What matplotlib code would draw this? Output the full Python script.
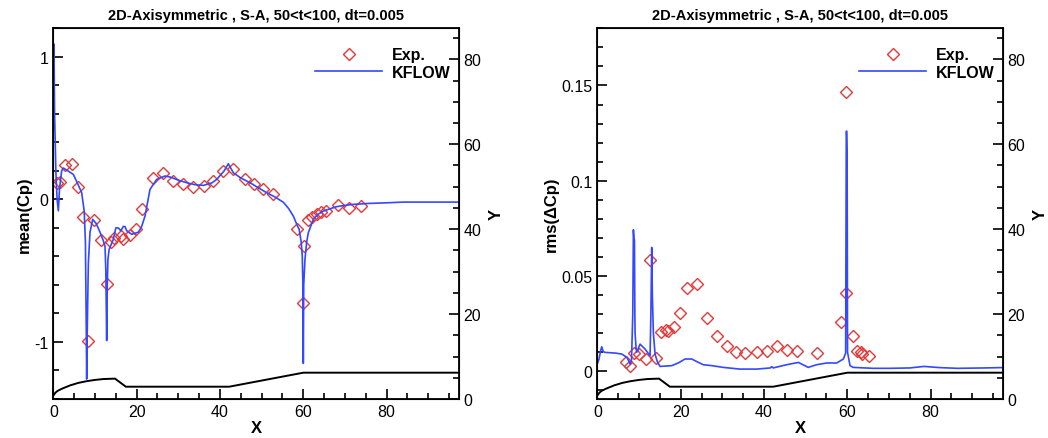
import numpy as np
import matplotlib.pyplot as plt
from matplotlib.ticker import MultipleLocator, FormatStrFormatter

plt.rcParams['font.family'] = ['Liberation Sans', 'DejaVu Sans']

title = '2D-Axisymmetric , S-A, 50<t<100, dt=0.005'

# mean(Cp) experiment
cp_exp_x = [0.8, 1.6, 2.8, 4.5, 5.9, 7.0, 8.2, 9.8, 11.5, 12.9, 13.8, 14.6, 16.2, 16.8, 18.4,
            19.8, 21.2, 24.0, 26.4, 28.8, 31.2, 33.6, 36.2, 38.4, 40.7, 43.2, 46.0, 48.2,
            50.4, 52.8, 58.6, 60.2, 60.0, 61.2, 62.2, 63.2, 64.2, 65.4, 68.4, 71.0, 73.8]
cp_exp_y = [0.117, 0.12, 0.24, 0.247, 0.088, -0.125, -0.99, -0.145, -0.286, -0.59, -0.30,
            -0.27, -0.26, -0.28, -0.25, -0.21, -0.065, 0.152, 0.184, 0.129, 0.105, 0.089,
            0.094, 0.129, 0.199, 0.215, 0.140, 0.110, 0.075, 0.040, -0.21, -0.33, -0.73,
            -0.145, -0.124, -0.10, -0.089, -0.082, -0.042, -0.058, -0.047]

# mean(Cp) KFLOW
cp_x = [0.0, 0.15, 0.3, 0.6, 0.9, 1.2, 1.5, 2.0, 2.4, 3.5, 4.8, 6.0, 6.8, 7.4, 7.7, 7.9, 8.0,
        8.15, 8.4, 8.8, 9.45, 10.3, 11.2, 12.0, 12.4, 12.6, 12.8, 12.95, 13.1, 13.4, 14.4,
        15.0, 15.6, 16.2, 16.8, 17.2, 17.6, 18.8, 20.4, 21.2, 22.0, 23.2, 24.8, 26.8, 28.0,
        30.0, 32.0, 34.0, 36.0, 38.0, 39.2, 41.0, 42.0, 43.2, 45.0, 47.2, 49.0, 51.2, 53.2,
        55.2, 56.5, 57.6, 58.5, 59.0, 59.5, 59.75, 59.9, 60.0, 60.1, 60.4, 60.8, 61.2, 62.4,
        63.5, 64.8, 66.5, 68.0, 70.0, 72.0, 76.0, 80.0, 84.0, 90.0, 97.3]
cp_y = [0.5, 1.09, 0.6, 0.2, 0.0, -0.08, 0.08, 0.2, 0.22, 0.2, 0.175, 0.10, 0.047, -0.08,
        -0.3, -0.9, -1.26, -0.9, -0.45, -0.23, -0.14, -0.17, -0.23, -0.29, -0.33, -0.5, -0.99,
        -0.6, -0.42, -0.35, -0.28, -0.2, -0.2, -0.22, -0.19, -0.19, -0.22, -0.245, -0.23,
        -0.19, -0.117, 0.07, 0.14, 0.164, 0.157, 0.135, 0.117, 0.103, 0.098, 0.115, 0.14, 0.2,
        0.25, 0.187, 0.15, 0.117, 0.085, 0.047, 0.017, -0.02, -0.065, -0.117, -0.18, -0.21,
        -0.3, -0.4, -0.6, -1.15, -0.6, -0.42, -0.3, -0.234, -0.14, -0.105, -0.082, -0.065,
        -0.051, -0.042, -0.035, -0.028, -0.024, -0.019, -0.019, -0.019]

# rms(dCp) experiment
rms_exp_x = [6.8, 7.85, 8.8, 10.0, 11.7, 12.6, 14.0, 15.2, 16.4, 16.9, 18.4, 19.8, 21.4,
             24.0, 26.3, 28.7, 31.0, 33.2, 35.4, 38.3, 40.8, 43.0, 45.6, 48.0, 52.8, 58.6,
             59.7, 59.7, 61.4, 62.4, 63.2, 63.6, 65.2]
rms_exp_y = [0.0047, 0.003, 0.0096, 0.009, 0.0065, 0.0584, 0.0068, 0.0208, 0.0218, 0.021,
             0.0231, 0.0304, 0.044, 0.0458, 0.028, 0.0187, 0.0131, 0.0103, 0.0094, 0.010,
             0.0108, 0.0134, 0.0112, 0.0108, 0.0096, 0.0257, 0.041, 0.1464, 0.0187, 0.0108,
             0.0103, 0.009, 0.0082]

# rms(dCp) KFLOW
rms_x = [0.0, 0.4, 0.8, 1.05, 1.4, 1.7, 3.0, 4.25, 5.85, 7.0, 7.3, 7.85, 8.2, 8.5, 8.65, 8.8,
         8.9, 9.0, 9.05, 9.3, 9.45, 10.25, 11.45, 12.65, 12.85, 13.05, 13.2, 13.45, 13.85,
         14.4, 15.05, 17.85, 19.5, 21.05, 22.65, 24.0, 25.4, 27.5, 30.2, 34.2, 38.25, 41.5,
         41.85, 42.2, 45.45, 48.25, 50.6, 52.65, 55.05, 57.45, 59.05, 59.6, 59.75, 59.85,
         59.95, 60.05, 60.65, 61.4, 66.2, 70.2, 75.0, 78.4, 82.0, 86.4, 92.8, 97.3]
rms_y = [0.004, 0.0065, 0.011, 0.0129, 0.0105, 0.010, 0.0098, 0.0096, 0.0091, 0.0075, 0.0065,
         0.0038, 0.006, 0.03, 0.0743, 0.069, 0.069, 0.03, 0.020, 0.012, 0.010, 0.0143, 0.0117,
         0.0082, 0.03, 0.065, 0.04, 0.020, 0.0091, 0.005, 0.0026, 0.003, 0.0045, 0.0065,
         0.0065, 0.005, 0.0035, 0.003, 0.0021, 0.0012, 0.0012, 0.0018, 0.0025, 0.0018,
         0.0035, 0.0047, 0.0021, 0.0035, 0.0044, 0.0044, 0.0065, 0.0096, 0.126, 0.126, 0.115,
         0.01, 0.003, 0.0021, 0.0016, 0.0016, 0.0018, 0.0026, 0.002, 0.0016, 0.0018, 0.002]

# geometry (right axis Y)
geo_x = [0, 0.5, 1, 2, 4, 6, 8, 10, 12, 14.8, 17.4, 42.2, 60, 97.3]
geo_y = [0.8, 1.5, 1.9, 2.4, 3.2, 3.8, 4.2, 4.5, 4.7, 4.8, 2.9, 2.9, 6.2, 6.2]

red = '#e03a3a'
blue = '#3348ff'

fig = plt.figure(figsize=(10.48, 4.39), dpi=100)


def setup(ax, ylim, major, minor, ylabel, fmt):
    ax.set_xlim(0, 97.3)
    ax.set_ylim(*ylim)
    ax.xaxis.set_major_locator(MultipleLocator(20))
    ax.xaxis.set_minor_locator(MultipleLocator(5))
    ax.yaxis.set_major_locator(MultipleLocator(major))
    ax.yaxis.set_minor_locator(MultipleLocator(minor))
    ax.yaxis.set_major_formatter(FormatStrFormatter(fmt))
    ax.tick_params(which='both', direction='in', top=False, right=False, labelsize=11.5,
                   width=1.2)
    ax.tick_params(which='major', length=7.5)
    ax.tick_params(which='minor', length=4)
    for s in ax.spines.values():
        s.set_linewidth(1.3)
    ax.set_xlabel('X', fontsize=12, fontweight='bold', labelpad=1)
    ax.set_ylabel(ylabel, fontsize=12, fontweight='bold', labelpad=2)
    ax.set_title(title, fontsize=10.5, fontweight='bold', pad=7)

    ax2 = ax.twinx()
    ax2.set_ylim(0, 87.3)
    ax2.yaxis.set_major_locator(MultipleLocator(20))
    ax2.yaxis.set_minor_locator(MultipleLocator(5))
    ax2.tick_params(which='both', direction='in', labelsize=11.5, width=1.2)
    ax2.tick_params(which='major', length=7.5)
    ax2.tick_params(which='minor', length=4)
    ax2.set_ylabel('Y', fontsize=12, fontweight='bold', labelpad=5)
    ax2.plot(geo_x, geo_y, color='black', lw=1.4)
    return ax2


# left panel
ax = fig.add_axes([0.0509, 0.0888, 0.3868, 0.8445])
ax.plot(cp_exp_x, cp_exp_y, 'D', ms=6.5, mfc='none', mec=red, mew=1.0, label='Exp.')
ax.plot(cp_x, cp_y, color=blue, lw=1.2, label='KFLOW')
setup(ax, (-1.4, 1.2), 1, 0.2, 'mean(Cp)', '%g')
ax.legend(loc='upper right', frameon=False, handlelength=4.2,
          prop={'weight': 'bold', 'size': 11.5}, labelspacing=0.15,
          bbox_to_anchor=(1.015, 0.987), handletextpad=0.6)

# right panel
ax = fig.add_axes([0.570, 0.0888, 0.3868, 0.8445])
ax.plot(rms_exp_x, rms_exp_y, 'D', ms=6.5, mfc='none', mec=red, mew=1.0, label='Exp.')
ax.plot(rms_x, rms_y, color=blue, lw=1.2, label='KFLOW')
setup(ax, (-0.0145, 0.18), 0.05, 0.01, 'rms(\u0394Cp)', '%g')
ax.legend(loc='upper right', frameon=False, handlelength=4.2,
          prop={'weight': 'bold', 'size': 11.5}, labelspacing=0.15,
          bbox_to_anchor=(1.015, 0.987), handletextpad=0.6)

plt.savefig('out.png', dpi=100)
